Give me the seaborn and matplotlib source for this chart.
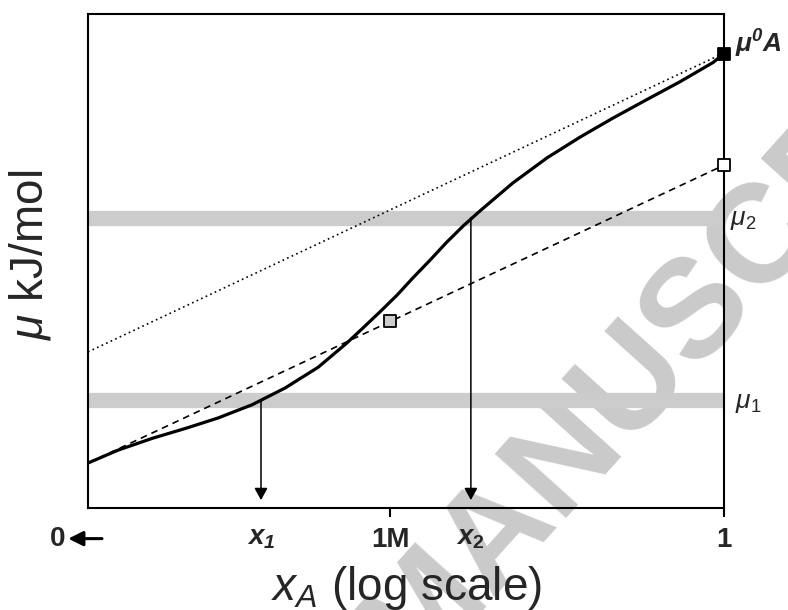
import numpy as np
import pandas as pd
import seaborn as sns
import matplotlib.pyplot as plt

# chemical potential curve vs x_A (axis units 0-100, x is log scale)
curve_x = [0.0, 4.7, 10.1, 15.3, 20.4, 25.8, 31.0, 36.2, 40.7, 43.2, 45.9, 48.6,
           51.1, 53.8, 56.4, 59.0, 61.6, 66.8, 72.2, 77.4, 82.5, 87.9, 93.1, 98.3, 100.0]
curve_mu = [9.1, 11.7, 14.1, 16.1, 18.2, 20.9, 24.3, 28.5, 33.4, 36.4, 39.7, 43.1,
            46.6, 50.2, 53.8, 57.1, 60.1, 65.8, 70.9, 75.1, 78.9, 82.7, 86.3, 90.2, 92.0]

# raoult (dotted) and henry (dashed) lines
ideal_x = [0.0, 100.0]
raoult_mu = [31.6, 92.1]
henry_mu = [9.1, 69.4]

mu1, mu2 = 21.8, 58.8
x1, x2 = 27.2, 60.2
x_1M, mu_1M = 47.5, 37.8
mu0_A = 92.0
mu_henry_1 = 69.4

major_ticks = [x_1M, 100.0]
major_labels = ['1M', '1']
minor_ticks = [x1, x2]
minor_labels = [r'$\mathbfit{x}_{\mathbfit{1}}$', r'$\mathbfit{x}_{\mathbf{2}}$']

sns.set_style('white')
plt.rcParams['font.family'] = ['Liberation Sans', 'DejaVu Sans']
plt.rcParams['mathtext.fontset'] = 'custom'
plt.rcParams['mathtext.rm'] = 'Liberation Sans'
plt.rcParams['mathtext.it'] = 'Liberation Sans:italic'
plt.rcParams['mathtext.bf'] = 'Liberation Sans:bold'
plt.rcParams['mathtext.bfit'] = 'Liberation Sans:bold:italic'

fig = plt.figure(figsize=(7.88, 6.10), dpi=100, facecolor='white')
ax = fig.add_axes([88/788, 102/610, 636/788, 494/610])
ax.patch.set_alpha(0)

# watermark behind everything
fig.text(412/788, 1 - 679/610, 'MANUSCRIPT', fontsize=101, fontweight='bold',
         color='#cacaca', rotation=48, rotation_mode='anchor',
         ha='left', va='baseline', zorder=-1)

ax.axhline(mu1, color='#cccccc', lw=11, zorder=1)
ax.axhline(mu2, color='#cccccc', lw=11, zorder=1)

sns.lineplot(x=ideal_x, y=raoult_mu, ax=ax, color='k', lw=1.2,
             linestyle=(0, (1, 2)), estimator=None, zorder=2)
sns.lineplot(x=ideal_x, y=henry_mu, ax=ax, color='k', lw=1.2,
             linestyle=(0, (4, 3)), estimator=None, zorder=2)
sns.lineplot(x=curve_x, y=curve_mu, ax=ax, color='k', lw=2.3,
             estimator=None, sort=False, zorder=3)

for xv, mv in [(x1, mu1), (x2, mu2)]:
    ax.annotate('', xy=(xv, 1.6), xytext=(xv, mv),
                arrowprops=dict(arrowstyle='-|>,head_length=0.4,head_width=0.22',
                                mutation_scale=18, lw=1.1, color='k',
                                shrinkA=0, shrinkB=0), zorder=3)

sns.scatterplot(x=[x_1M], y=[mu_1M], ax=ax, marker='s', s=80, color='#cccccc',
                edgecolor='k', linewidth=1.3, zorder=5, clip_on=False)
sns.scatterplot(x=[100.0], y=[mu_henry_1], ax=ax, marker='s', s=80, color='white',
                edgecolor='k', linewidth=1.3, zorder=5, clip_on=False)
sns.scatterplot(x=[100.0], y=[mu0_A], ax=ax, marker='s', s=80, color='k',
                edgecolor='k', linewidth=1.3, zorder=5, clip_on=False)

ax.set_xlim(0, 100)
ax.set_ylim(0, 100)
ax.set_yticks([])
ax.set_xticks(major_ticks, labels=major_labels)
ax.set_xticks(minor_ticks, labels=minor_labels, minor=True)
ax.tick_params(axis='x', which='major', length=6.5, width=1.5, pad=7.5,
               labelsize=20, bottom=True, color='k')
ax.tick_params(axis='x', which='minor', length=0, pad=12, labelsize=20, bottom=True)
for lbl in ax.get_xticklabels():
    lbl.set_fontweight('bold')

for sp in ax.spines.values():
    sp.set_visible(True)
    sp.set_color('k')
    sp.set_linewidth(1.5)

# "0 <-" at the left end of the x axis
xt = ax.get_xaxis_transform()
ax.text(-3.6, -0.062, '0', transform=xt, ha='right', va='center',
        fontsize=20, fontweight='bold')
ax.annotate('', xy=(-3.1, -0.062), xytext=(2.2, -0.062), xycoords=xt, textcoords=xt,
            arrowprops=dict(arrowstyle='-|>,head_length=0.4,head_width=0.2',
                            mutation_scale=22, lw=2.2, color='k',
                            shrinkA=0, shrinkB=0), annotation_clip=False)

ax.text(101.7, 93.9, r'$\mathbfit{μ^0A}$', fontsize=19, ha='left', va='center',
        clip_on=False)
ax.text(100.9, mu2 - 0.6, r'$\mathit{μ}_{2}$', fontsize=19, ha='left', va='center',
        clip_on=False)
ax.text(101.7, mu1 - 0.6, r'$\mathit{μ}_{\mathit{1}}$', fontsize=19, ha='left',
        va='center', clip_on=False)

ax.set_xlabel(r'$\mathit{x_A}$ (log scale)', fontsize=33)
ax.xaxis.label.set_va('baseline')
ax.xaxis.set_label_coords(0.5, -0.186)
ax.set_ylabel(r'$\mathit{μ}$ kJ/mol', fontsize=33)
ax.yaxis.set_label_coords(-0.055, 0.512)

fig.savefig('out.png', dpi=100)
